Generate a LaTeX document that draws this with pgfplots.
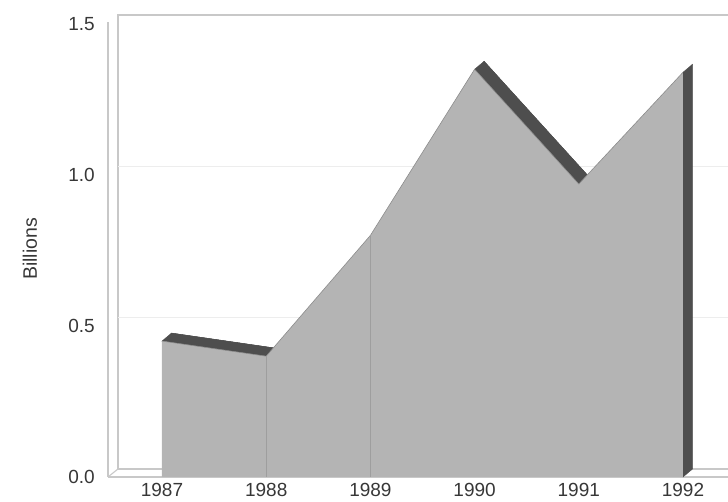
\documentclass[border=0pt]{standalone}
\usepackage{fontspec}
\setmainfont{Liberation Sans}
\usepackage{pgfplots}
\pgfplotsset{compat=1.18}
\definecolor{face}{RGB}{180,180,180}
\definecolor{depth}{RGB}{78,78,78}
\definecolor{frame}{RGB}{200,200,200}
\definecolor{txt}{RGB}{55,55,55}
\begin{document}
\begin{tikzpicture}
\path[use as bounding box] (0,0) rectangle (728pt,502pt);
\begin{axis}[
  at={(108pt,25pt)}, anchor=south west,
  scale only axis, width=620pt, height=462pt,
  xmin=1986.4818, xmax=1992.432,
  ymin=0, ymax=1.5298,
  clip=false,
  axis line style={draw=none},
  major tick length=0pt,
  xtick={1987,1988,1989,1990,1991,1992},
  xticklabels={1987,1988,1989,1990,1991,1992},
  ytick={0,0.5,1,1.5},
  yticklabels={0.0,0.5,1.0,1.5},
  /pgf/number format/assume math mode=true,
  tick label style={font=\fontsize{19}{22}\selectfont, text=txt, inner sep=0pt},
  xticklabel style={anchor=north, yshift=-6pt},
  yticklabel style={anchor=east, xshift=-13pt},
  ylabel={Billions},
  every axis y label/.style={at={(axis description cs:-0.1258,0.4935)}, rotate=90, anchor=center,
    font=\fontsize{19.5}{22}\selectfont, text=txt},
]
% frame: back wall, left wall and floor
\draw[frame, line width=1.1pt] (axis cs:1986.4818,0) -- (axis cs:1986.4818,1.505);
\draw[frame, line width=1.1pt] (axis cs:1986.5778,0.0265) -- (axis cs:1986.5778,1.5298) -- (axis cs:1992.432,1.5298);
\draw[frame, line width=1.1pt] (axis cs:1986.4818,0) -- (axis cs:1992.432,0);
\draw[frame, line width=1.1pt] (axis cs:1986.5778,0.0265) -- (axis cs:1992.432,0.0265);
\draw[frame, line width=1.1pt] (axis cs:1986.4818,0) -- (axis cs:1986.5778,0.0265);
\draw[black!7, line width=1pt] (axis cs:1986.5778,0.5265) -- (axis cs:1992.432,0.5265);
\draw[black!7, line width=1pt] (axis cs:1986.5778,1.0265) -- (axis cs:1992.432,1.0265);
% depth (back copy of the area)
\addplot[fill=depth, draw=depth, line width=0.4pt, xshift=9.5pt, yshift=8pt] coordinates {
  (1987,0) (1987,0.45) (1988,0.40) (1989,0.80) (1990,1.35) (1991,0.97) (1992,1.34) (1992,0)
} -- cycle;
% top faces of the falling segments
\addplot[fill=depth, draw=depth, line width=0.4pt] coordinates {
  (1987,0.45) (1988,0.40) (1988.0912,0.4265) (1987.0912,0.4765)
} -- cycle;
\addplot[fill=depth, draw=depth, line width=0.4pt] coordinates {
  (1990,1.35) (1991,0.97) (1991.0912,0.9965) (1990.0912,1.3765)
} -- cycle;
% right side face
\addplot[fill=depth, draw=depth, line width=0.4pt] coordinates {
  (1992,0) (1992.0912,0.0265) (1992.0912,1.3665) (1992,1.34)
} -- cycle;
% front face
\addplot[fill=face, draw=none] coordinates {
  (1987,0) (1987,0.45) (1988,0.40) (1989,0.80) (1990,1.35) (1991,0.97) (1992,1.34) (1992,0)
} -- cycle;
\addplot[draw=black!45, line width=0.6pt] coordinates {
  (1987,0.45) (1988,0.40) (1989,0.80) (1990,1.35) (1991,0.97) (1992,1.34)
};
\addplot[ycomb, draw=black!38, line width=0.8pt] coordinates {
  (1988,0.40) (1989,0.80)
};
\end{axis}
\end{tikzpicture}
\end{document}
